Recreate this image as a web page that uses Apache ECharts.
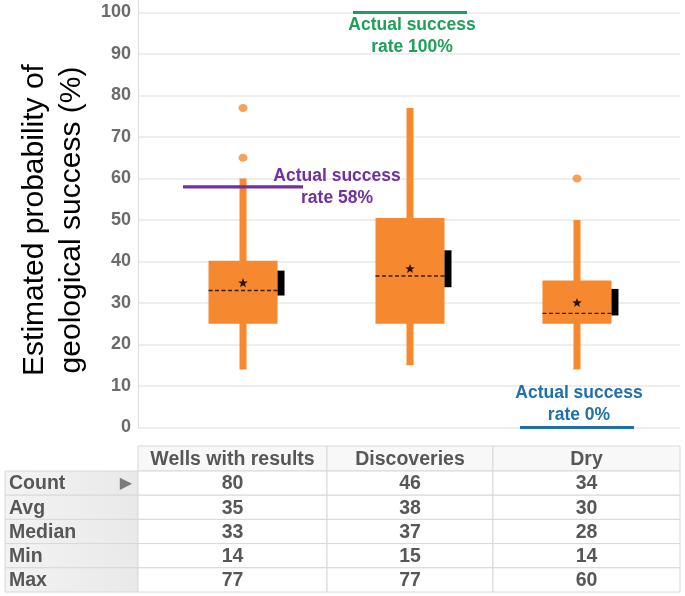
<!DOCTYPE html>
<html>
<head>
<meta charset="utf-8">
<script src="https://cdn.jsdelivr.net/npm/echarts@6/dist/echarts.min.js"></script>
<style>
html,body{margin:0;padding:0;background:#fff;}
#chart{width:685px;height:596px;}
</style>
</head>
<body>
<div id="chart"></div>
<script>
// ---- data ----
const categories = ['Wells with results', 'Discoveries', 'Dry'];
const whiskerLow = [14, 15, 14];
const quartile1 = [25, 25, 25];
const medianVal = [33, 36.5, 27.5];
const quartile3 = [40.2, 50.5, 35.4];
const whiskerHigh = [60, 77, 50];
const meanVal = [34.8, 38.2, 30];
const meanBandLow = [31.8, 33.8, 27];
const meanBandHigh = [37.8, 42.7, 33.4];
const outlierCat = [0, 0, 2];
const outlierVal = [77, 65, 60];
const actualRate = [58, 100, 0];
const actualRateText = ['Actual success\nrate 58%', 'Actual success\nrate 100%', 'Actual success\nrate 0%'];
const yTicks = [0, 10, 20, 30, 40, 50, 60, 70, 80, 90, 100];
const statNames = ['Count', 'Avg', 'Median', 'Min', 'Max'];
const statCount = [80, 46, 34];
const statAvg = [35, 38, 30];
const statMedian = [33, 37, 28];
const statMin = [14, 15, 14];
const statMax = [77, 77, 60];

// ---- styling ----
const ORANGE = '#f6892f';
const FONT = '"Liberation Sans", Arial, sans-serif';
const rateColors = ['#7030a0', '#1fa05a', '#1f6fab'];
const rateLineHalf = [60, 57, 57];
const rateTextDx = [94, 2, 2];
const rateTextDy = [-22, 2, -45];

const boxData = categories.map((c, i) => [i, whiskerLow[i], quartile1[i], medianVal[i], quartile3[i], whiskerHigh[i], meanVal[i], meanBandLow[i], meanBandHigh[i]]);
const outlierData = outlierCat.map((c, i) => [c, outlierVal[i]]);
const rateData = actualRate.map((v, i) => [i, v]);

function starPoints(cx, cy, R, r) {
  const pts = [];
  for (let k = 0; k < 10; k++) {
    const ang = -Math.PI / 2 + k * Math.PI / 5;
    const rad = k % 2 === 0 ? R : r;
    pts.push([cx + rad * Math.cos(ang), cy + rad * Math.sin(ang)]);
  }
  return pts;
}

function renderBox(params, api) {
  const x = api.value(0);
  const pLow = api.coord([x, api.value(1)]);
  const pQ1 = api.coord([x, api.value(2)]);
  const pMed = api.coord([x, api.value(3)]);
  const pQ3 = api.coord([x, api.value(4)]);
  const pHigh = api.coord([x, api.value(5)]);
  const pMean = api.coord([x, api.value(6)]);
  const pBL = api.coord([x, api.value(7)]);
  const pBH = api.coord([x, api.value(8)]);
  const cx = pLow[0];
  const halfBox = 34.5;
  const halfW = 3.5;
  return {
    type: 'group',
    children: [
      { type: 'rect', shape: { x: cx - halfW, y: pHigh[1], width: halfW * 2, height: pLow[1] - pHigh[1] }, style: { fill: ORANGE } },
      { type: 'rect', shape: { x: cx - halfBox, y: pQ3[1], width: halfBox * 2, height: pQ1[1] - pQ3[1] }, style: { fill: ORANGE } },
      { type: 'line', shape: { x1: cx - halfBox, y1: pMed[1], x2: cx + halfBox, y2: pMed[1] }, style: { stroke: '#3a1c06', lineWidth: 1.4, lineDash: [4, 2.5] } },
      { type: 'polygon', shape: { points: starPoints(cx, pMean[1], 5, 2.1) }, style: { fill: '#2a1505' } },
      { type: 'rect', shape: { x: cx + halfBox, y: pBH[1], width: 7, height: pBL[1] - pBH[1] }, style: { fill: '#000' } }
    ]
  };
}

function renderRate(params, api) {
  const i = params.dataIndex;
  const p = api.coord([api.value(0), api.value(1)]);
  return {
    type: 'group',
    children: [
      { type: 'line', shape: { x1: p[0] - rateLineHalf[i], y1: p[1], x2: p[0] + rateLineHalf[i], y2: p[1] }, style: { stroke: rateColors[i], lineWidth: 3.2 } },
      { type: 'text', x: p[0] + rateTextDx[i], y: p[1] + rateTextDy[i], z2: 10,
        style: { text: actualRateText[i], textAlign: 'center', textVerticalAlign: 'top', fill: rateColors[i],
                 font: 'bold 17.5px ' + FONT, lineHeight: 22 } }
    ]
  };
}

// ---- table ----
const colEdges = [138, 327, 493, 680];
const labelLeft = 5;
const headerTop = 446, headerBottom = 471;
const rowH = 24.2;
const statRows = [statCount, statAvg, statMedian, statMin, statMax];
const BORDER = '#d8d8d8';
const TXT = '#575757';
const TFONT = 'bold 19.5px ' + FONT;
const tableEls = [];
// header
for (let c = 0; c < 3; c++) {
  tableEls.push({ type: 'rect', shape: { x: colEdges[c], y: headerTop, width: colEdges[c + 1] - colEdges[c], height: headerBottom - headerTop },
    style: { fill: '#f8f8f8', stroke: BORDER, lineWidth: 1 } });
  tableEls.push({ type: 'text', x: (colEdges[c] + colEdges[c + 1]) / 2, y: (headerTop + headerBottom) / 2 + 1,
    style: { text: categories[c], textAlign: 'center', textVerticalAlign: 'middle', fill: TXT, font: TFONT } });
}
// rows
statNames.forEach((name, r) => {
  const y0 = headerBottom + r * rowH;
  tableEls.push({ type: 'rect', shape: { x: labelLeft, y: y0, width: colEdges[0] - labelLeft, height: rowH },
    style: { fill: new echarts.graphic.LinearGradient(0, 0, 1, 0, [{ offset: 0, color: '#f3f3f3' }, { offset: 1, color: '#e9e9e9' }]), stroke: BORDER, lineWidth: 1 } });
  tableEls.push({ type: 'text', x: labelLeft + 4, y: y0 + rowH / 2 + 1,
    style: { text: name, textAlign: 'left', textVerticalAlign: 'middle', fill: TXT, font: TFONT } });
  for (let c = 0; c < 3; c++) {
    tableEls.push({ type: 'rect', shape: { x: colEdges[c], y: y0, width: colEdges[c + 1] - colEdges[c], height: rowH },
      style: { fill: '#ffffff', stroke: BORDER, lineWidth: 1 } });
    tableEls.push({ type: 'text', x: (colEdges[c] + colEdges[c + 1]) / 2, y: y0 + rowH / 2 + 1,
      style: { text: String(statRows[r][c]), textAlign: 'center', textVerticalAlign: 'middle', fill: TXT, font: TFONT } });
  }
});
// arrow on first row
tableEls.push({ type: 'text', x: 126, y: headerBottom + rowH / 2 + 1,
  style: { text: '▶', textAlign: 'center', textVerticalAlign: 'middle', fill: '#7a7a7a', font: '16px "DejaVu Sans"' } });
// vertical axis continuation above plot
tableEls.push({ type: 'line', shape: { x1: 138.5, y1: 0, x2: 138.5, y2: 13 }, style: { stroke: '#dedede', lineWidth: 1 } });

const chart = echarts.init(document.getElementById('chart'), null, { renderer: 'canvas' });
chart.setOption({
  animation: false,
  backgroundColor: '#ffffff',
  grid: { left: 138, right: 5, top: 12.5, bottom: 168.5, containLabel: false },
  xAxis: {
    type: 'value', min: -0.629, max: 2.617,
    show: false, splitLine: { show: false }
  },
  yAxis: {
    type: 'value', min: 0, max: 100, interval: 10,
    name: 'Estimated probability of\ngeological success (%)',
    nameLocation: 'middle', nameGap: 39,
    nameTextStyle: { color: '#000', fontSize: 30, fontFamily: FONT, lineHeight: 37 },
    axisLine: { show: true, onZero: false, lineStyle: { color: '#dedede', width: 1 } },
    axisTick: { show: false },
    axisLabel: { margin: 7, color: '#6b6b6b', fontSize: 18, fontWeight: 'bold', fontFamily: FONT,
      formatter: v => (yTicks.indexOf(v) >= 0 ? String(v) : '') },
    splitLine: { show: true, lineStyle: { color: '#e9e9e9', width: 1.5 } }
  },
  series: [
    { type: 'custom', renderItem: renderBox, data: boxData, encode: { x: 0, y: [1, 5] }, z: 2 },
    { type: 'scatter', data: outlierData, symbol: 'circle', symbolSize: [9, 8], itemStyle: { color: ORANGE }, z: 3 },
    { type: 'custom', renderItem: renderRate, data: rateData, encode: { x: 0, y: 1 }, z: 4, clip: false }
  ],
  graphic: { elements: tableEls }
});
</script>
</body>
</html>
